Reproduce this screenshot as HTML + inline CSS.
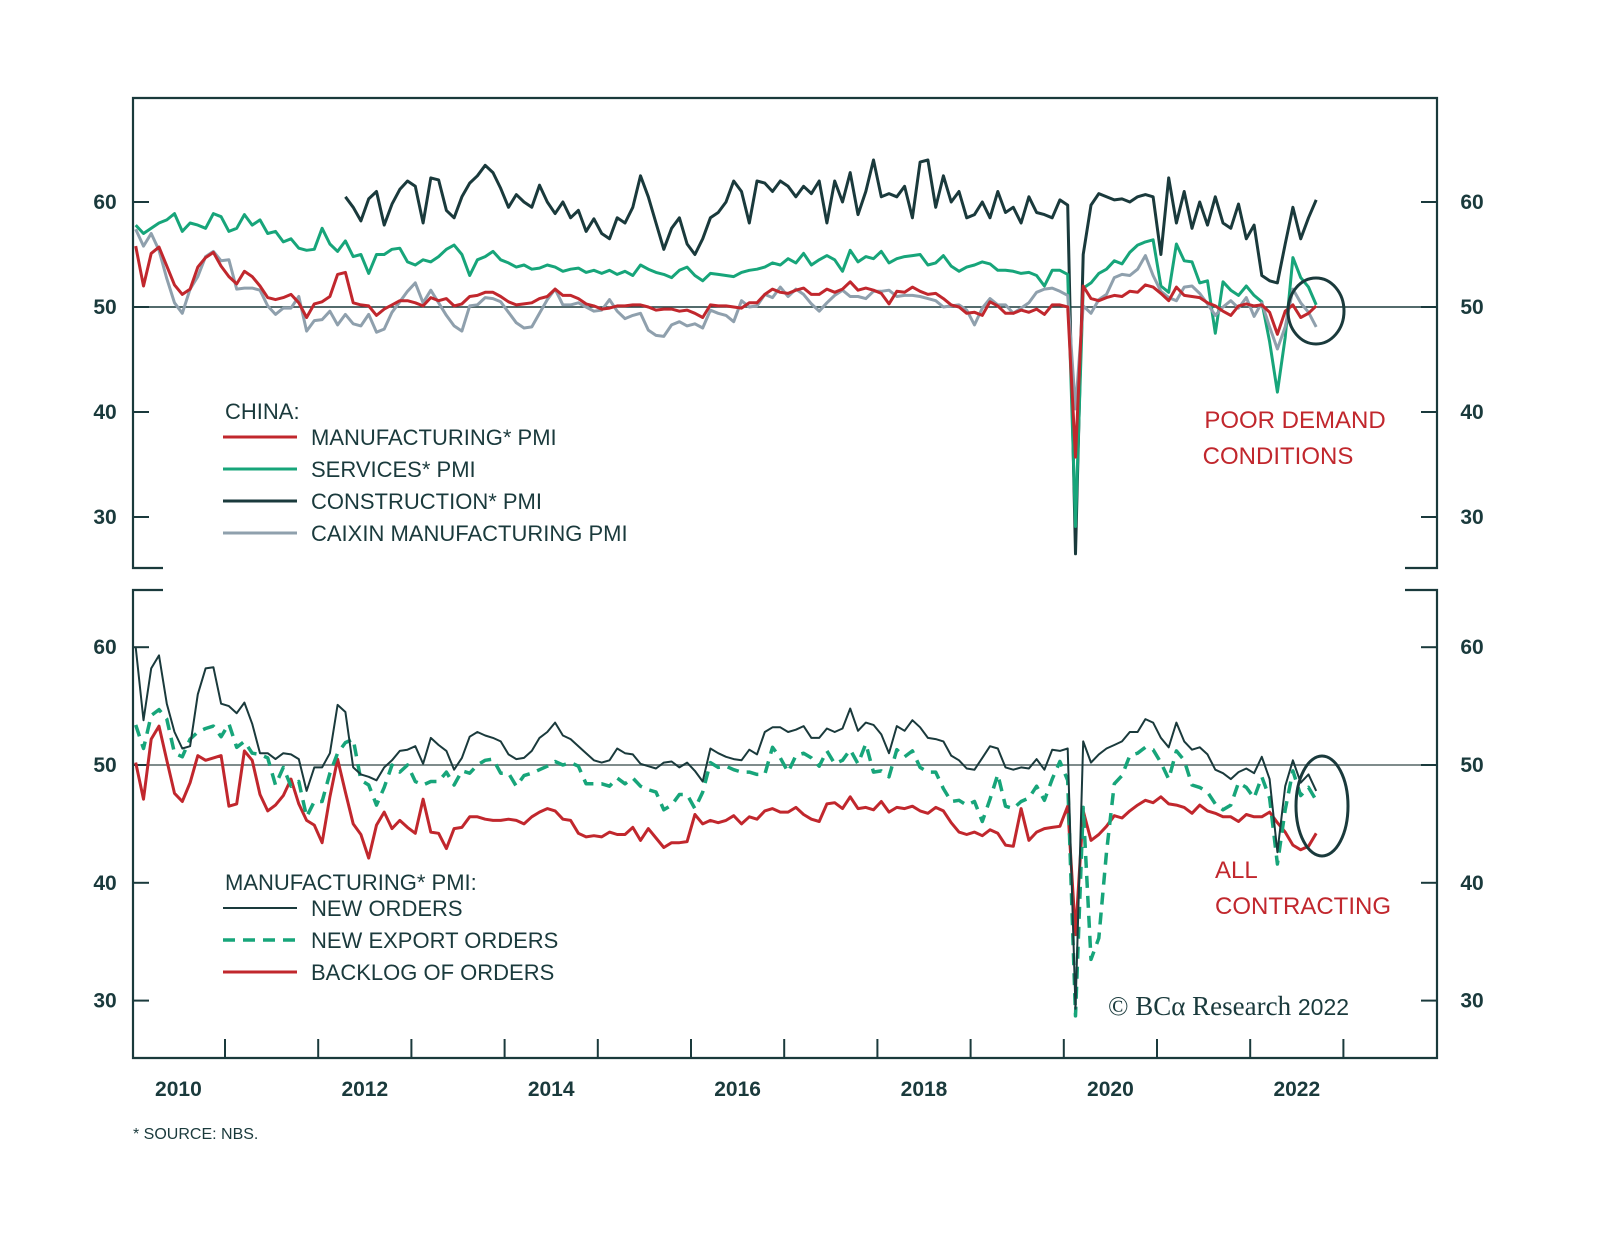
<!DOCTYPE html>
<html><head><meta charset="utf-8"><style>
body{margin:0;background:#fff}
svg{display:block;font-family:"Liberation Sans",sans-serif}
</style></head><body>
<svg id="chart" width="1600" height="1237" viewBox="0 0 1600 1237" xmlns="http://www.w3.org/2000/svg">
<rect width="1600" height="1237" fill="#fff"/>
<g id="frame" stroke="#1a3a3c" stroke-width="2.2" fill="none">
<path d="M163 568 H133 V98 H1437 V568 H1405"/>
<path d="M163 590 H133 V1058 H1437 V590 H1405"/>
</g>
<g id="axes"></g>
<g id="series"></g>
<g id="annot">
<ellipse cx="1316" cy="311" rx="28" ry="33" fill="none" stroke="#1a3a3c" stroke-width="3"/>
<ellipse cx="1322" cy="806" rx="26" ry="50" fill="none" stroke="#1a3a3c" stroke-width="3"/>
<text x="1295" y="428" text-anchor="middle" font-size="24" fill="#c1272d">POOR DEMAND</text>
<text x="1278" y="464" text-anchor="middle" font-size="24" fill="#c1272d">CONDITIONS</text>
<text x="1215" y="878" font-size="24" fill="#c1272d">ALL</text>
<text x="1215" y="914" font-size="24" fill="#c1272d">CONTRACTING</text>
<text x="1108" y="1015" font-family="Liberation Serif,serif" font-size="27" fill="#1a3a3c">© BCα Research <tspan font-size="23" font-family="Liberation Sans,sans-serif">2022</tspan></text>
<text x="133" y="1139" font-size="16" fill="#1a3a3c">* SOURCE: NBS.</text>
</g>
<g id="legend" font-size="22" fill="#1a3a3c"></g>
</svg>
<script>
const yearLabels=["2010","2012","2014","2016","2018","2020","2022"];
const topTicks=[30,40,50,60];
const botTicks=[30,40,50,60];
const mfg=[55.8,52.0,55.1,55.7,53.9,52.1,51.2,51.7,53.8,54.7,55.2,53.9,52.9,52.2,53.4,52.9,52.0,50.9,50.7,50.9,51.2,50.4,49.0,50.3,50.5,51.0,53.1,53.3,50.4,50.2,50.1,49.2,49.8,50.2,50.6,50.6,50.4,50.1,50.9,50.6,50.8,50.1,50.3,51.0,51.1,51.4,51.4,51.0,50.5,50.2,50.3,50.4,50.8,51.0,51.7,51.1,51.1,50.8,50.3,50.1,49.8,49.9,50.1,50.1,50.2,50.2,50.0,49.7,49.8,49.8,49.6,49.7,49.4,49.0,50.2,50.1,50.1,50.0,49.9,50.4,50.4,51.2,51.7,51.4,51.3,51.6,51.8,51.2,51.2,51.7,51.4,51.7,52.4,51.6,51.8,51.6,51.3,50.3,51.5,51.4,51.9,51.5,51.2,51.3,50.8,50.2,50.0,49.4,49.5,49.2,50.5,50.1,49.4,49.4,49.7,49.5,49.8,49.3,50.2,50.2,50.0,35.7,52.0,50.8,50.6,50.9,51.1,51.0,51.5,51.4,52.1,51.9,51.3,50.6,51.9,51.1,51.0,50.9,50.4,50.1,49.6,49.2,50.1,50.3,50.1,50.2,49.5,47.4,49.6,50.2,49.0,49.4,50.1];
const services=[57.8,57.0,57.5,58.0,58.3,58.9,57.2,58.0,57.8,57.5,58.9,58.6,57.2,57.5,58.8,57.8,58.3,57.0,57.2,56.2,56.5,55.6,55.4,55.5,57.5,56.0,55.3,56.3,54.8,55.0,53.2,55.0,55.0,55.5,55.6,54.3,54.0,54.5,54.3,54.8,55.5,55.9,55.0,53.0,54.5,54.8,55.3,54.5,54.2,53.8,54.0,53.6,53.7,54.0,53.8,53.4,53.6,53.7,53.3,53.5,53.2,53.5,53.1,53.4,53.0,54.0,53.6,53.3,53.1,52.8,53.5,53.8,53.0,52.5,53.2,53.1,53.0,52.9,53.3,53.5,53.6,53.8,54.2,54.0,54.6,54.2,55.1,54.0,54.5,54.9,54.5,53.4,55.4,54.3,54.8,54.6,55.3,54.2,54.6,54.8,54.9,55.0,54.0,54.2,54.9,53.9,53.4,53.8,54.0,54.3,54.1,53.5,53.5,53.4,53.2,53.3,53.0,52.0,53.5,53.5,53.1,29.1,51.8,52.3,53.2,53.6,54.4,54.1,55.2,55.9,56.2,56.4,52.0,51.4,56.0,54.4,54.3,52.3,52.5,47.5,52.4,51.6,51.1,52.0,51.1,50.5,46.7,41.9,47.1,54.7,52.8,51.9,50.2];
const constructionStart=27;
const construction=[60.5,59.5,58.2,60.3,61.0,57.8,59.8,61.2,62.0,61.5,58.0,62.3,62.1,59.2,58.5,60.5,61.8,62.5,63.5,62.8,61.3,59.5,60.7,60.0,59.5,61.6,60.0,58.9,60.0,58.5,59.2,57.2,58.4,57.0,56.5,58.5,58.0,59.5,62.5,60.5,58.0,55.5,57.5,58.5,56.0,55.0,56.5,58.5,59.0,60.0,62.0,61.0,58.0,62.0,61.8,61.0,62.0,61.5,60.5,61.5,60.8,62.0,58.0,62.0,60.0,62.8,58.8,61.0,64.0,60.5,60.8,60.5,61.5,58.5,63.8,64.0,59.5,62.5,60.0,61.0,58.5,58.8,60.0,58.5,61.0,59.0,59.5,58.0,60.5,59.0,58.8,58.5,60.2,59.7,26.5,55.0,59.7,60.8,60.5,60.2,60.3,60.0,60.5,60.7,60.5,55.0,62.3,58.0,61.0,57.5,60.0,57.8,60.5,58.0,57.5,59.8,56.5,57.8,53.0,52.5,52.3,56.0,59.5,56.5,58.5,60.2];
const caixin=[57.4,55.8,57.0,55.4,52.7,50.4,49.4,51.7,52.9,54.8,55.3,54.4,54.5,51.7,51.8,51.8,51.6,50.1,49.3,49.9,49.9,51.0,47.7,48.7,48.8,49.6,48.3,49.3,48.4,48.2,49.3,47.6,47.9,49.5,50.5,51.5,52.3,50.4,51.6,50.4,49.2,48.2,47.7,50.1,50.2,50.9,50.8,50.5,49.5,48.5,48.0,48.1,49.4,50.7,51.7,50.2,50.2,50.4,50.0,49.6,49.7,50.7,49.6,48.9,49.2,49.4,47.8,47.3,47.2,48.3,48.6,48.2,48.4,48.0,49.7,49.4,49.2,48.6,50.6,50.0,50.1,51.2,50.9,51.9,51.0,51.7,51.2,50.3,49.6,50.4,51.1,51.6,51.0,51.0,50.8,51.5,51.5,51.6,51.0,51.1,51.1,51.0,50.8,50.6,50.0,50.1,50.2,49.7,48.3,49.9,50.8,50.2,50.2,49.4,49.9,50.4,51.4,51.7,51.8,51.5,51.1,40.3,50.1,49.4,50.7,51.2,52.8,53.1,53.0,53.6,54.9,53.0,51.5,50.9,50.6,51.9,52.0,51.3,50.3,49.2,50.0,50.6,49.9,50.9,49.1,50.4,48.1,46.0,48.1,51.7,50.4,49.5,48.1];
const newOrders=[60.0,53.8,58.2,59.3,55.2,52.8,51.4,51.6,56.0,58.2,58.3,55.2,55.0,54.4,55.3,53.5,51.0,51.0,50.5,51.0,50.9,50.5,47.8,49.8,49.8,51.0,55.1,54.5,49.8,49.2,49.0,48.7,49.8,50.4,51.2,51.3,51.6,50.1,52.3,51.7,51.2,49.6,50.6,52.4,52.8,52.5,52.3,52.0,50.9,50.5,50.6,51.2,52.3,52.8,53.6,52.5,52.2,51.6,51.0,50.4,50.2,50.4,51.4,51.0,50.9,50.1,49.9,49.7,50.2,50.3,49.8,50.2,49.5,48.6,51.4,51.0,50.7,50.5,50.4,51.3,50.9,52.8,53.2,53.2,52.8,53.0,53.3,52.3,52.3,53.1,52.8,53.1,54.8,52.9,53.6,53.4,52.6,51.0,53.3,52.9,53.8,53.2,52.3,52.2,52.0,50.8,50.4,49.7,49.6,50.6,51.6,51.4,49.8,49.6,49.8,49.7,50.5,49.6,51.3,51.2,51.4,29.3,52.0,50.2,50.9,51.4,51.7,52.0,52.8,52.8,53.9,53.6,52.3,51.5,53.6,52.0,51.3,51.5,50.9,49.6,49.3,48.8,49.4,49.7,49.3,50.7,48.8,42.6,48.2,50.4,48.5,49.2,47.8];
const exportOrders=[53.4,51.4,54.2,54.7,53.9,51.0,50.7,52.2,52.8,53.1,53.3,52.4,53.5,51.5,52.0,51.0,50.9,50.6,48.3,49.8,48.2,48.6,45.6,46.9,46.9,49.3,51.0,51.9,52.2,48.7,48.3,46.6,48.1,50.0,49.4,50.0,48.6,48.3,48.6,48.6,49.4,48.3,49.5,49.3,50.0,50.4,50.5,49.3,49.3,48.2,49.1,49.3,49.6,49.9,50.3,50.0,50.2,49.9,48.4,48.4,48.4,48.2,48.9,48.4,48.9,48.2,47.9,47.7,46.2,46.6,47.5,47.5,46.3,47.7,50.2,49.8,49.9,49.6,49.4,49.4,49.2,49.2,51.5,50.6,49.4,50.8,51.0,50.6,49.9,51.2,50.1,50.4,51.3,50.1,51.8,49.4,49.5,49.0,51.3,50.7,51.2,49.8,49.4,49.4,48.0,46.9,47.0,46.6,46.9,45.2,47.1,49.2,46.5,46.3,46.9,47.2,48.2,47.0,48.8,50.3,48.7,28.7,46.4,33.5,35.3,42.6,48.4,49.1,50.8,51.0,51.5,51.3,50.2,48.8,51.2,50.4,48.3,48.1,47.7,46.7,46.2,46.6,48.5,48.1,47.2,49.0,47.2,41.6,46.2,49.5,47.4,48.1,47.0];
const backlog=[50.2,47.1,52.2,53.3,50.4,47.6,46.9,48.5,50.8,50.4,50.6,50.8,46.5,46.7,51.2,50.4,47.5,46.1,46.6,47.4,48.8,46.7,45.3,44.9,43.4,47.3,50.5,47.7,45.0,44.1,42.1,44.9,46.0,44.6,45.3,44.7,44.2,47.1,44.3,44.2,42.9,44.6,44.7,45.6,45.6,45.4,45.3,45.3,45.4,45.3,45.0,45.6,46.0,46.3,46.1,45.4,45.3,44.2,43.9,44.0,43.9,44.3,44.1,44.1,44.7,43.6,44.6,43.8,43.0,43.4,43.4,43.5,45.8,45.0,45.3,45.1,45.3,45.7,45.0,45.6,45.4,46.1,46.3,46.0,46.0,46.4,45.8,45.4,45.2,46.7,46.8,46.3,47.3,46.3,46.4,46.2,46.9,46.0,46.4,46.3,46.5,46.1,45.9,46.4,46.1,45.1,44.3,44.1,44.3,44.0,44.5,44.2,43.2,43.1,46.3,43.6,44.3,44.6,44.7,44.8,46.5,35.6,46.1,43.6,44.1,44.8,45.7,45.5,46.1,46.6,47.0,46.8,47.3,46.7,46.6,46.4,45.9,46.6,46.1,45.9,45.6,45.6,45.2,45.8,45.6,45.6,46.0,45.1,44.3,43.2,42.8,43.1,44.2];

const NS="http://www.w3.org/2000/svg";
const X0=131.8, YW=93.2;
function xm(m){return X0+(m+0.5)*YW/12;}
function yTop(v){return 307-(v-50)*10.5;}
function yBot(v){return 765-(v-50)*11.78;}
function mk(tag,attrs,parent){const e=document.createElementNS(NS,tag);for(const k in attrs)e.setAttribute(k,attrs[k]);parent.appendChild(e);return e;}
const axes=document.getElementById('axes');
const series=document.getElementById('series');
const legend=document.getElementById('legend');
const dark="#1a3a3c";

let l=mk('line',{x1:133,x2:1437,y1:yTop(50),y2:yTop(50),stroke:dark,'stroke-width':1.6},axes);


l=mk('line',{x1:133,x2:1437,y1:yBot(50),y2:yBot(50),stroke:'#7f8c8c','stroke-width':2},axes);



function yTicks(ticks,yf,prefix){
  ticks.forEach(t=>{
    const y=yf(t);
    let a=mk('line',{x1:133,x2:149,y1:y,y2:y,stroke:dark,'stroke-width':2},axes);
    
    
    a=mk('line',{x1:1421,x2:1437,y1:y,y2:y,stroke:dark,'stroke-width':2},axes);
    
    
    let tx=mk('text',{x:105,y:y+7,'text-anchor':'middle','font-size':21,'font-weight':'bold',fill:dark},axes);
    tx.textContent=t;
    
    
    tx=mk('text',{x:1472,y:y+7,'text-anchor':'middle','font-size':21,'font-weight':'bold',fill:dark},axes);
    tx.textContent=t;
    
    
  });
}
yTicks(topTicks,yTop,'top-y');
yTicks(botTicks,yBot,'bottom-y');

for(let i=1;i<=13;i++){
  const x=X0+i*YW;
  const t=mk('line',{x1:x,x2:x,y1:1039,y2:1058,stroke:dark,'stroke-width':2},axes);
  
  
}
yearLabels.forEach(s=>{
  const yr=+s;
  const x=X0+(yr-2010+0.5)*YW;
  const t=mk('text',{x:x,y:1096,'text-anchor':'middle','font-size':21,'font-weight':'bold',fill:dark},axes);
  t.textContent=s;
  
  
});

function drawSeries(vals,start,yf,color,w,name,dash){
  const pts=vals.map((v,i)=>xm(start+i).toFixed(1)+','+yf(v).toFixed(1)).join(' ');
  const p=mk('polyline',{points:pts,fill:'none',stroke:color,'stroke-width':w,'stroke-linejoin':'round'},series);
  if(dash)p.setAttribute('stroke-dasharray',dash);
  
  
}
drawSeries(construction,constructionStart,yTop,dark,3,'construction-pmi-line');
drawSeries(services,0,yTop,'#17a57a',3,'services-pmi-line');
drawSeries(caixin,0,yTop,'#8fa0ad',3,'caixin-pmi-line');
drawSeries(mfg,0,yTop,'#c1272d',3,'manufacturing-pmi-line');
drawSeries(backlog,0,yBot,'#c1272d',3,'backlog-orders-line');
drawSeries(exportOrders,0,yBot,'#17a57a',3.5,'new-export-orders-line','12 8');
drawSeries(newOrders,0,yBot,dark,2,'new-orders-line');

function legendTitle(txt,y,name){
  const t=mk('text',{x:225,y:y},legend);
  t.textContent=txt;
  
  
}
function legendItem(txt,y,color,w,dash,name){
  const ln=mk('line',{x1:223,x2:297,y1:y,y2:y,stroke:color,'stroke-width':w},legend);
  if(dash)ln.setAttribute('stroke-dasharray',dash);
  
  
  const t=mk('text',{x:311,y:y+8},legend);
  t.textContent=txt;
  
  
}
legendTitle('CHINA:',419,'top-legend-title');
legendItem('MANUFACTURING* PMI',437,'#c1272d',3,null,'legend-manufacturing');
legendItem('SERVICES* PMI',469,'#17a57a',3,null,'legend-services');
legendItem('CONSTRUCTION* PMI',501,dark,3,null,'legend-construction');
legendItem('CAIXIN MANUFACTURING PMI',533,'#8fa0ad',3,null,'legend-caixin');
legendTitle('MANUFACTURING* PMI:',890,'bottom-legend-title');
legendItem('NEW ORDERS',908,dark,2,null,'legend-new-orders');
legendItem('NEW EXPORT ORDERS',940,'#17a57a',3.5,'12 8','legend-new-export-orders');
legendItem('BACKLOG OF ORDERS',972,'#c1272d',3,null,'legend-backlog');
</script>
</body></html>
